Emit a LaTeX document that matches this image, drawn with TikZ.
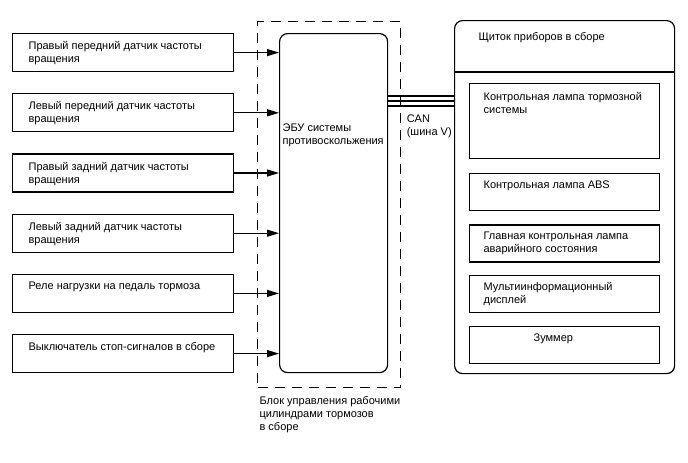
\documentclass[tikz,border=0pt]{standalone}
\usepackage{fontspec}
\setmainfont{Liberation Sans}
\usetikzlibrary{arrows.meta}
\usetikzlibrary{positioning}

\begin{document}
\begin{tikzpicture}[x=1pt, y=-1pt, >={Triangle[length=12pt,width=7pt]}, line width=1.2pt]
\tikzstyle{txt} = [anchor=north west, align=left, inner sep=0pt, font=\fontsize{11}{13}\selectfont]
\tikzstyle{sensor} = [draw, minimum width=221pt, minimum height=38pt, inner sep=0pt]
\tikzstyle{lamp} = [draw, minimum width=190pt, minimum height=37pt, inner sep=0pt]
\tikzstyle{block} = [draw, rounded corners=8pt, anchor=north west, inner sep=0pt]

\useasboundingbox (0,0) rectangle (688,463);

% brake actuator assembly
\node[draw, line width=1.3pt, dash pattern=on 10pt off 7pt, minimum width=143pt, minimum height=366pt, anchor=north west, inner sep=0pt,
  label={[txt, xshift=2pt, yshift=-8pt]south west:{Блок управления рабочими\\цилиндрами тормозов\\в сборе}}] (unit) at (257,21) {};
\node[block, minimum width=108pt, minimum height=339pt,
  label={[txt, xshift=3pt, yshift=-90pt]north west:{ЭБУ системы\\противоскольжения}}] (ecu) at (279,33) {};

% inputs
\node[sensor, anchor=north west, label={[txt, xshift=16pt, yshift=-8pt]north west:{Правый передний датчик частоты\\вращения}}] (s1) at (12,33) {};
\node[sensor, below=21pt of s1, label={[txt, xshift=16pt, yshift=-8pt]north west:{Левый передний датчик частоты\\вращения}}] (s2) {};
\node[sensor, below=21pt of s2, label={[txt, xshift=16pt, yshift=-8pt]north west:{Правый задний датчик частоты\\вращения}}] (s3) {};
\node[sensor, below=21pt of s3, label={[txt, xshift=16pt, yshift=-8pt]north west:{Левый задний датчик частоты\\вращения}}] (s4) {};
\node[sensor, below=21pt of s4, label={[txt, xshift=16pt, yshift=-8pt]north west:{Реле нагрузки на педаль тормоза}}] (s5) {};
\node[sensor, below=21pt of s5, label={[txt, xshift=16pt, yshift=-8pt]north west:{Выключатель стоп-сигналов в сборе}}] (s6) {};

\foreach \s in {s1,s2,s3,s4,s5,s6}
  \draw[->] (\s.east) -- (\s.east -| ecu.west);

% combination meter
\node[block, minimum width=220pt, minimum height=353pt,
  label={[txt, xshift=24pt, yshift=-12pt]north west:{Щиток приборов в сборе}}] (panel) at (454,20) {};
\draw ([yshift=-52pt]panel.north west) -- ([yshift=-52pt]panel.north east);

\node[lamp, minimum height=75pt, anchor=north west, label={[txt, xshift=14pt, yshift=-9pt]north west:{Контрольная лампа тормозной\\системы}}] (l1) at (469,83) {};
\node[lamp, below=14pt of l1, label={[txt, xshift=14pt, yshift=-7pt]north west:{Контрольная лампа ABS}}] (l2) {};
\node[lamp, below=13pt of l2, label={[txt, xshift=14pt, yshift=-7pt]north west:{Главная контрольная лампа\\аварийного состояния}}] (l3) {};
\node[lamp, below=12pt of l3, label={[txt, xshift=14pt, yshift=-7pt]north west:{Мультиинформационный\\дисплей}}] (l4) {};
\node[lamp, below=13pt of l4, label={[txt, xshift=64pt, yshift=-7pt]north west:{Зуммер}}] (l5) {};

% CAN bus
\foreach \dy [count=\i] in {63,68,73} {
  \coordinate (can\i) at ([yshift=-\dy pt]ecu.north east);
  \draw (can\i) -- (can\i -| panel.west);
}
\node[txt] (canlbl) at ([xshift=18pt, yshift=-8pt]can3) {CAN\\(шина V)};

\end{tikzpicture}
\end{document}
